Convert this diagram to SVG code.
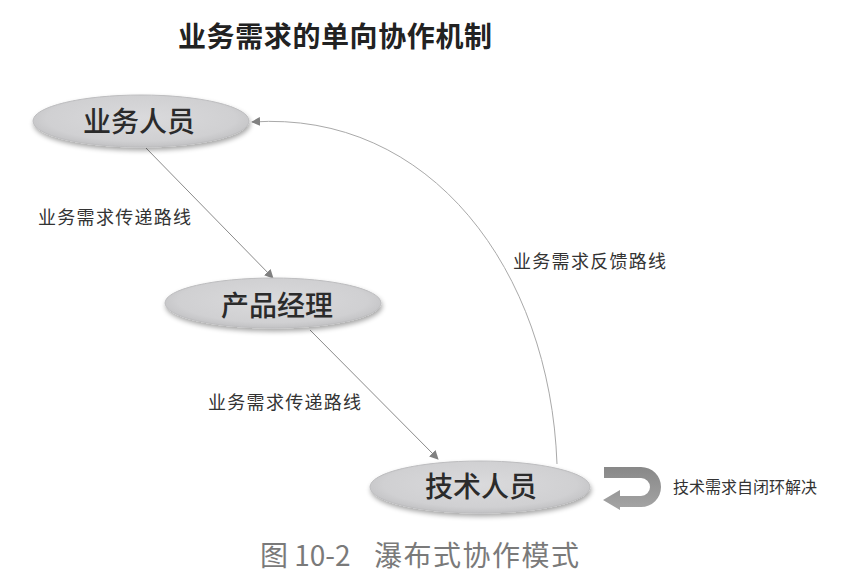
<svg xmlns="http://www.w3.org/2000/svg" width="868" height="588" viewBox="0 0 868 588">
<style>
.cjk{font-family:"Noto Sans CJK SC","Noto Sans",sans-serif;}
.title{font-size:28px;font-weight:700;fill:#222;letter-spacing:0.6px;}
.node-text{font-size:28px;font-weight:500;fill:#2b2b2b;text-anchor:middle;}
.lbl{font-size:18px;fill:#333;letter-spacing:1.3px;}
.note{font-size:16px;fill:#333;}
.caption{font-size:28px;fill:#7a7a7a;}
.node{fill:url(#ng);stroke:#bdbdbf;stroke-width:1;filter:url(#sh);}
.conn{fill:none;stroke:#8a8a8a;stroke-width:1;}
.fb{fill:none;stroke:#a9a9a9;stroke-width:1;}
</style>
<defs>
<radialGradient id="ng" cx="50%" cy="45%" r="55%">
<stop offset="0" stop-color="#dadadc"/>
<stop offset="0.8" stop-color="#d0d0d2"/>
<stop offset="1" stop-color="#c2c2c4"/>
</radialGradient>
<linearGradient id="lg" x1="0" y1="0" x2="0" y2="1">
<stop offset="0" stop-color="#888"/>
<stop offset="1" stop-color="#a5a5a5"/>
</linearGradient>
<filter id="sh" x="-10%" y="-30%" width="120%" height="170%">
<feGaussianBlur in="SourceAlpha" stdDeviation="2.5"/>
<feOffset dx="1" dy="3" result="b"/>
<feComponentTransfer><feFuncA type="linear" slope="0.35"/></feComponentTransfer>
<feMerge><feMergeNode/><feMergeNode in="SourceGraphic"/></feMerge>
</filter>
<marker id="ah" viewBox="0 0 10 10" refX="9" refY="5" markerWidth="9" markerHeight="9" markerUnits="userSpaceOnUse" orient="auto">
<path d="M0,0 L10,5 L0,10 Z" fill="#808080"/>
</marker>
</defs>
<rect width="868" height="588" fill="#fff"/>
<text class="cjk title" x="178" y="47">业务需求的单向协作机制</text>
<g id="connectors">
<line class="conn" x1="146" y1="148" x2="273" y2="278" marker-end="url(#ah)"/>
<line class="conn" x1="310" y1="330" x2="438" y2="459" marker-end="url(#ah)"/>
<path class="fb" d="M557,464 C550,270 430,110 252,122" marker-end="url(#ah)"/>
</g>
<g id="node-business">
<ellipse class="node" cx="141" cy="121" rx="108" ry="26"/>
<text class="cjk node-text" x="139" y="132">业务人员</text>
</g>
<g id="node-pm">
<ellipse class="node" cx="273" cy="303" rx="108" ry="25"/>
<text class="cjk node-text" x="277" y="316">产品经理</text>
</g>
<g id="node-tech">
<ellipse class="node" cx="480" cy="487" rx="110" ry="26"/>
<text class="cjk node-text" x="481" y="497">技术人员</text>
</g>
<g id="labels">
<text class="cjk lbl" x="38" y="224">业务需求传递路线</text>
<text class="cjk lbl" x="513" y="268">业务需求反馈路线</text>
<text class="cjk lbl" x="208" y="409">业务需求传递路线</text>
</g>
<g id="self-loop">
<path d="M604,467 L641,467 A20,20 0 0 1 641,507 L620,507 L620,510 L603,500 L620,490 L620,496 L641,496 A9,9 0 0 0 641,478 L604,478 Z" fill="url(#lg)"/>
<text class="cjk note" x="673" y="493">技术需求自闭环解决</text>
</g>
<text class="cjk caption" y="566"><tspan x="260">图 10-2</tspan><tspan x="374" letter-spacing="1.5">瀑布式协作模式</tspan></text>
</svg>
